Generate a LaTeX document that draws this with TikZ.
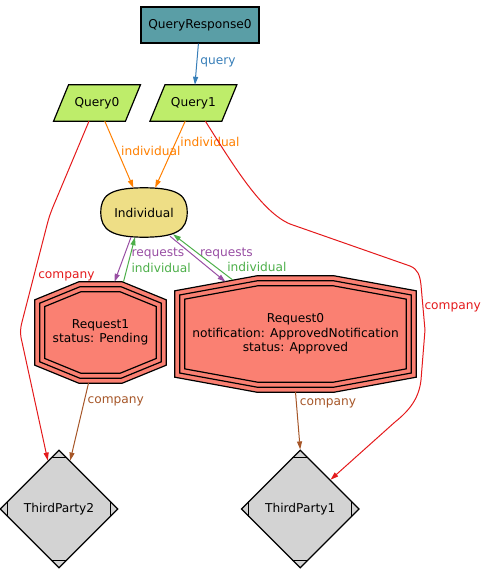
\documentclass[tikz,border=0pt]{standalone}
\usepackage{fontspec}
\setmainfont{DejaVu Sans}
\usepackage{tikz}
\usetikzlibrary{arrows.meta,%
                shapes,positioning,backgrounds}

\definecolor{respteal}{RGB}{90,158,166}
\definecolor{querygreen}{RGB}{190,237,106}
\definecolor{indgold}{RGB}{238,222,134}
\definecolor{reqsalmon}{RGB}{250,128,114}
\definecolor{tpgray}{RGB}{211,211,211}
\definecolor{eblue}{RGB}{55,126,184}
\definecolor{ered}{RGB}{228,26,28}
\definecolor{egreen}{RGB}{77,175,74}
\definecolor{epurple}{RGB}{152,78,163}
\definecolor{eorange}{RGB}{255,127,0}
\definecolor{ebrown}{RGB}{166,86,40}

\newcommand{\NodeFont}{\fontsize{12.2}{14.5}\selectfont}

% three octagons round a node: name, cut x, cut y
\newcommand{\tripleoct}[3]{%
  \foreach \gap in {0,5,10}{%
    \pgfmathsetmacro{\octS}{sqrt(#2*#2+#3*#3)/(#2*#3)}%
    \pgfmathsetmacro{\octA}{#2*(1+\gap*\octS-\gap/#3)}%
    \pgfmathsetmacro{\octB}{#3*(1+\gap*\octS-\gap/#2)}%
    \draw[OctStyle] ([shift={(\octA,\gap)}]#1.north west) -- ([shift={(-\octA,\gap)}]#1.north east)
      -- ([shift={(-\gap,\octB)}]#1.north east) -- ([shift={(-\gap,-\octB)}]#1.south east)
      -- ([shift={(-\octA,-\gap)}]#1.south east) -- ([shift={(\octA,-\gap)}]#1.south west)
      -- ([shift={(\gap,-\octB)}]#1.south west) -- ([shift={(\gap,\octB)}]#1.north west) -- cycle;}}

% slanted box round a node
\newcommand{\slantbox}[1]{%
  \draw[SlantStyle] ([xshift=7.5pt]#1.north west) -- ([xshift=7.5pt]#1.north east)
    -- ([xshift=-7.5pt]#1.south east) -- ([xshift=-7.5pt]#1.south west) -- cycle;}

% the four small cuts of a diamond
\newcommand{\mdticks}[1]{%
  \draw[line width=1.2pt] ([shift={(-8,8)}]#1.north) -- ([shift={(8,8)}]#1.north)
    ([shift={(-8,-8)}]#1.south) -- ([shift={(8,-8)}]#1.south)
    ([shift={(8,-8)}]#1.west) -- ([shift={(8,8)}]#1.west)
    ([shift={(-8,-8)}]#1.east) -- ([shift={(-8,8)}]#1.east);}

\begin{document}
\begin{tikzpicture}[x=1pt, y=-1pt]
  \tikzset{BoxStyle/.style   = {shape          = rectangle,
                                draw, fill     = respteal,
                                line width     = 1.2pt,
                                minimum width  = 118pt,
                                minimum height = 36pt},
           PlainNode/.style  = {shape = rectangle, draw = none,
                                inner sep = 0pt, align = center},
           SlantStyle/.style = {draw, fill = querygreen, line width = 1.2pt},
           OctStyle/.style   = {draw, fill = reqsalmon, line width = 1.2pt},
           EggStyle/.style   = {draw, fill = indgold, line width = 1.2pt},
           DiaStyle/.style   = {shape = diamond, draw, fill = tpgray,
                                line width = 1.2pt, inner sep = 0pt,
                                minimum width = 118pt, minimum height = 118pt},
           EdgeStyle/.style  = {line width = 1pt,
                                -{Triangle[length=8pt,width=5pt]}},
           EdgeLabel/.style  = {anchor = west, inner sep = 1pt}}
  \useasboundingbox (0,0) rectangle (490,582);
  \begin{scope}[every node/.style={font=\NodeFont}]
    %%% NODES %%%
    \node[BoxStyle] (qr) at (200,25) {QueryResponse0};
    \node[PlainNode, minimum width=71.5pt, minimum height=36pt] (q0) at (97,103) {Query0};
    \node[PlainNode, minimum width=71.5pt, minimum height=36pt, right=24.5pt of q0] (q1) {Query1};
    \node[PlainNode, minimum width=86pt, minimum height=49pt] (ind) at (144,212.5) {Individual};
    \node[PlainNode, minimum width=131pt, minimum height=101pt] (r1) at (100.5,332.5) {Request1\\status: Pending};
    \node[PlainNode, minimum width=241pt, minimum height=116pt] (r0) at (295.5,334) {Request0\\notification: ApprovedNotification\\status: Approved};
    \node[DiaStyle] (tp2) at (59,509) {ThirdParty2};
    \node[DiaStyle, right=122pt of tp2] (tp1) {ThirdParty1};
    \mdticks{tp2}
    \mdticks{tp1}
    %%% SHAPES BEHIND THE TEXT %%%
    \begin{scope}[on background layer]
      \slantbox{q0}
      \slantbox{q1}
      \draw[EggStyle] (ind.north) .. controls ([xshift=36pt]ind.north) and ([yshift=16pt]ind.east) .. (ind.east)
        .. controls ([yshift=-17pt]ind.east) and ([xshift=33pt]ind.south) .. (ind.south)
        .. controls ([xshift=-33pt]ind.south) and ([yshift=-17pt]ind.west) .. (ind.west)
        .. controls ([yshift=16pt]ind.west) and ([xshift=-36pt]ind.north) .. (ind.north) -- cycle;
      \tripleoct{r1}{44}{18}
      \tripleoct{r0}{82}{15}
    \end{scope}
    %%% EDGES %%%
    \draw[EdgeStyle, eblue] (qr) -- node[EdgeLabel, pos=.45, xshift=2pt]{query} (q1);
    \draw[EdgeStyle, eorange] (q0) -- node[EdgeLabel, pos=.45, xshift=2pt]{individual} (ind);
    \draw[EdgeStyle, eorange] (q1) -- node[EdgeLabel, pos=.31, xshift=3pt]{individual} (ind);
    \draw[EdgeStyle, ered] ([xshift=-8pt]q0.south) -- (58,195) .. controls (53,207) and (50,213) .. (47,225)
      -- node[EdgeLabel, pos=.53, xshift=3pt]{company} (22,322) .. controls (20,330) and (20,334) .. (22,342)
      -- (tp2.103);
    \draw[EdgeStyle, ered] ([xshift=12pt]q1.south) .. controls (235,168) and (262,212) .. (290,224)
      -- (410,266) .. controls (418,269) and (420,276) .. (421,285)
      -- node[EdgeLabel, pos=.5]{company} (425,330) -- (421,380) .. controls (419,398) and (410,410) .. (395,422)
      -- (tp1.44);
    \draw[EdgeStyle, epurple] ([xshift=-13pt]ind.south) -- node[EdgeLabel, pos=.36, xshift=5pt]{requests} ([xshift=14pt]r1.north);
    \draw[EdgeStyle, egreen] ([xshift=23pt]r1.north) -- node[EdgeLabel, pos=.31, xshift=3pt]{individual} ([xshift=-9pt]ind.south);
    \draw[EdgeStyle, epurple] ([shift={(26,-1)}]ind.south) -- node[EdgeLabel, pos=.37, xshift=8pt]{requests} ([shift={(-70,6)}]r0.north);
    \draw[EdgeStyle, egreen] ([shift={(-63,4)}]r0.north) -- node[EdgeLabel, pos=.28, xshift=10pt]{individual} ([shift={(29,-3)}]ind.south);
    \draw[EdgeStyle, ebrown] ([xshift=-12pt]r1.south) -- node[EdgeLabel, pos=.24, xshift=2pt]{company} (tp2.77);
    \draw[EdgeStyle, ebrown] (r0.south) -- node[EdgeLabel, pos=.19, xshift=2pt]{company} (tp1.north);
  \end{scope}
\end{tikzpicture}
\end{document}
